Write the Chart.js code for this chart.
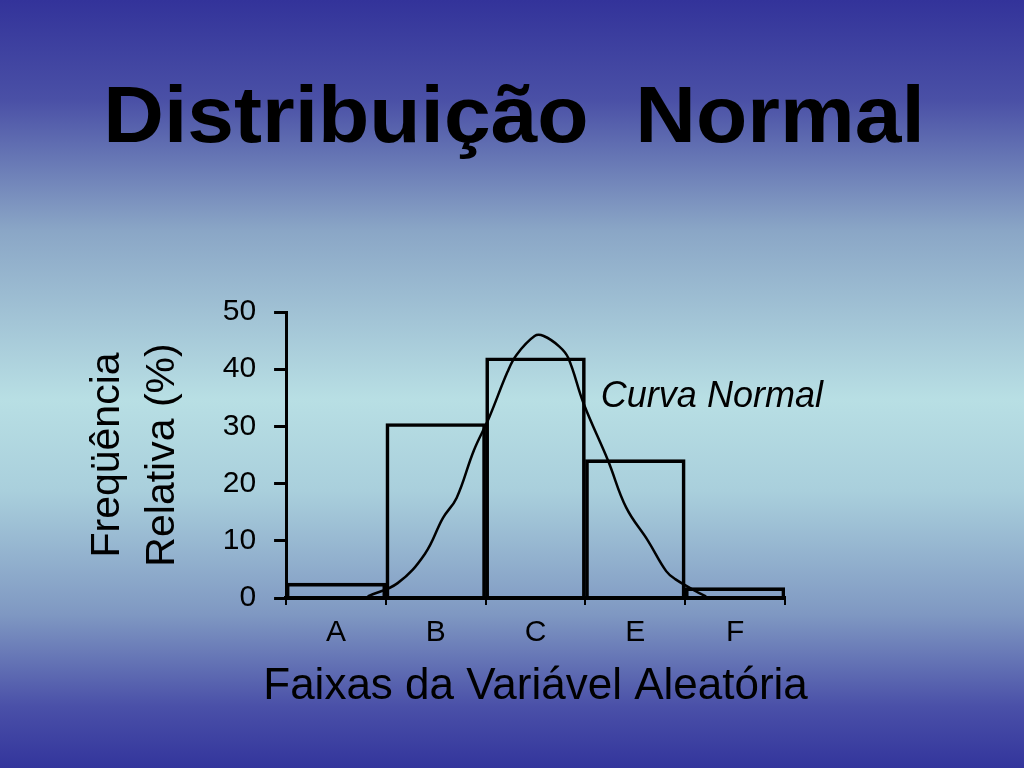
<!DOCTYPE html>
<html>
<head>
<meta charset="utf-8">
<script src="https://cdn.jsdelivr.net/npm/chart.js@4.4.0/dist/chart.umd.min.js"></script>
<style>
  html, body { margin: 0; padding: 0; }
  body {
    width: 1024px; height: 768px; overflow: hidden;
    background: linear-gradient(to bottom, #33339a 0%, #4a50a6 13%, #8aa6c6 30%, #b8dfe4 52%, #a9cfdc 64%, #7f98c2 80%, #4a50a8 92%, #33359c 100%);
  }
  #wrap { width: 1024px; height: 768px; }
</style>
</head>
<body>
<div id="wrap"><canvas id="normalChart"></canvas></div>
<script>
// histogram (faixas) and relative frequency in %
const categories = ['A', 'B', 'C', 'E', 'F'];
const freqValues = [2.6, 30.5, 42, 24.2, 1.8];

// normal curve; x in category units (0 = left edge of A, 5 = right edge of F)
const curveX = [0.65, 0.98, 1.28, 1.48, 1.63, 1.82, 1.99, 2.19, 2.29, 2.49, 2.59, 2.76, 2.86, 3.03, 3.30, 3.50, 3.74, 3.94, 4.04, 4.30, 4.38];
const curveY = [0.3, 2.6, 7.7, 14, 17.5, 25.8, 31.6, 39.5, 42.5, 45.8, 45.8, 44, 42, 34, 24, 15.8, 10, 4.7, 3.3, 0.9, 0.3];

const yTicks = [0, 10, 20, 30, 40, 50];

const mainTitle = 'Distribuição  Normal';
const xTitle = 'Faixas da Variável Aleatória';
const noteText = 'Curva Normal';
const noteX = 3.22;
const noteY = 35.2;

const FONT = "'Liberation Sans', Arial, sans-serif";
Chart.defaults.color = '#000';
Chart.defaults.font.family = FONT;

// draws the slide title, the x axis title and the "Curva Normal" label
// (done by hand so chart.js doesn't squeeze them to the box width)
const textPlugin = {
    id: 'slideTexts',
    afterDatasetsDraw(chart) {
        const c = chart.ctx;
        const area = chart.chartArea;
        c.save();
        c.fillStyle = '#000';

        // title glyphs are a bit wider than Liberation Sans Bold -> stretch horizontally
        c.save();
        c.font = 'bold 80px ' + FONT;
        c.textAlign = 'center';
        c.textBaseline = 'alphabetic';
        c.translate(514, 142);
        c.scale(1.05, 1);
        c.fillText(mainTitle, 0, 0);
        c.restore();

        c.font = '44px ' + FONT;
        c.textAlign = 'center';
        c.textBaseline = 'alphabetic';
        c.fillText(xTitle, (area.left + area.right) / 2, 699);

        c.font = 'italic 36px ' + FONT;
        c.textAlign = 'left';
        c.textBaseline = 'middle';
        c.fillText(noteText, chart.scales.x2.getPixelForValue(noteX), chart.scales.y.getPixelForValue(noteY));
        c.restore();
    }
};

const ctx = document.getElementById('normalChart').getContext('2d');
new Chart(ctx, {
    type: 'bar',
    data: {
        labels: categories,
        datasets: [{
            type: 'bar',
            data: freqValues,
            backgroundColor: 'rgba(0,0,0,0)',
            borderColor: '#000',
            borderWidth: 3,
            barPercentage: 1,
            categoryPercentage: 1,
            grouped: false,
            order: 2
        }, {
            type: 'line',
            xAxisID: 'x2',
            data: curveX.map((x, i) => ({ x: x, y: curveY[i] })),
            borderColor: '#000',
            borderWidth: 2.5,
            pointRadius: 0,
            tension: 0.4,
            fill: false,
            order: 1
        }]
    },
    options: {
        responsive: true,
        maintainAspectRatio: false,
        animation: false,
        layout: { padding: { top: 312, left: 76, right: 239, bottom: 107 } },
        plugins: {
            legend: { display: false },
            tooltip: { enabled: false },
            title: { display: false }
        },
        scales: {
            x: {
                type: 'category',
                offset: true,
                grid: { display: true, drawOnChartArea: false, offset: true, color: '#000', tickLength: 7, lineWidth: 2 },
                border: { display: true, color: '#000', width: 4 },
                ticks: { font: { size: 30 }, padding: 10, color: '#000' }
            },
            x2: {
                type: 'linear',
                min: 0,
                max: 5,
                display: false
            },
            y: {
                min: 0,
                max: 50,
                afterBuildTicks: axis => { axis.ticks = yTicks.map(v => ({ value: v })); },
                grid: { display: true, drawOnChartArea: false, color: '#000', tickLength: 12, lineWidth: 3 },
                border: { display: true, color: '#000', width: 3 },
                ticks: { font: { size: 30 }, padding: 18, color: '#000' },
                title: { display: true, text: ['Freqüência', 'Relativa (%)'], font: { size: 41, lineHeight: 1.35 }, padding: { bottom: 14 }, color: '#000' }
            }
        }
    },
    plugins: [textPlugin]
});
</script>
</body>
</html>
